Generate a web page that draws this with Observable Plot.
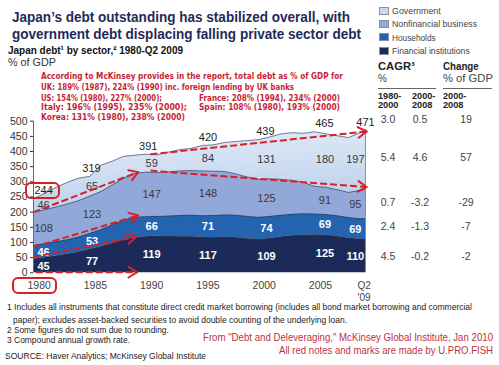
<!DOCTYPE html>
<html><head><meta charset="utf-8">
<script src="https://cdn.jsdelivr.net/npm/d3@7"></script>
<script src="https://cdn.jsdelivr.net/npm/@observablehq/plot@0.6"></script>
<style>
html,body{margin:0;padding:0;background:#fff;}
#root{position:relative;width:499px;height:365px;overflow:hidden;font-family:"Liberation Sans",Arial,sans-serif;}
.t{position:absolute;white-space:nowrap;line-height:1;}
.box{position:absolute;border:2px solid #d42027;border-radius:6px;box-sizing:border-box;}
.sq{position:absolute;width:10px;height:8px;border:1px solid #8a8f9a;box-sizing:border-box;}
.rule{position:absolute;height:1px;background:#666;}
</style></head><body><div id="root"></div>
<script>
// ---------- data ----------
const years = [1980,1981,1982,1983,1984,1985,1986,1987,1988,1989,1990,1991,1992,1993,1994,1995,1996,1997,1998,1999,2000,2001,2002,2003,2004,2005,2006,2007,2008,2009,2009.5];
const financial    = [45,50,55,61,68,77,86,97,108,116,119,121,120,119,119,117,116,118,116,112,109,113,118,122,124,125,124,120,114,111,110];
const households   = [46,46,47,48,50,53,56,61,65,67,66,65,67,70,71,71,73,73,74,74,74,73,72,71,71,69,68,68,68,67,69];
const nonfinancial = [108,112,115,118,120,123,126,132,139,145,147,144,146,147,147,148,146,143,136,130,125,124,118,112,103,91,90,86,83,94,95];
const government   = [45,54,65,71,74,65,87,78,72,60,59,59,65,70,73,84,87,96,107,120,131,138,150,157,162,180,176,178,181,190,197];

const sectors = ["Government","Nonfinancial business","Households","Financial institutions"];
const stackOrder = ["Financial institutions","Households","Nonfinancial business","Government"];
const sectorColors = ["url(#govGrad)","#91a8d8","#2363b0","#1c2a5a"];
const legendColors = ["#c9dbf1","#91a8d8","#2363b0","#1c2a5a"];

// printed labels
const labelYears = [1980.9,1985.2,1990.5,1995.5,2000.7,2005.9,2008.6];
const totalLabelYears = [1980.9,1985.15,1990.2,1995.5,2000.6,2005.85,2009.5];
const finLabels = [45,77,119,117,109,125,110];
const hhLabels  = [46,53,66,71,74,69,69];
const nfbLabels = [108,123,147,148,125,91,95];
const govLabels = [46,65,59,84,131,180,197];
const totalLabels = [244,319,391,420,439,465,471];

const yTicks = [0,50,100,150,200,250,300,350,400,450,500];
const xTickYears = [1980.5,1985.5,1990.5,1995.5,2000.5,2005.5,2009.375];
const xTickLabels = ["1980","1985","1990","1995","2000","2005","Q2"];

// red annotation arrows (data units)
const arrowStartYear = [1980.2,1980,1980,1980,1990.4,1990.4];
const arrowStartVal  = [2,52,85,200,391,337];
const arrowEndYear   = [1989.2,1989.1,1989.3,1989.3,2009.6,2009.6];
const arrowEndVal    = [2,118,189,332,466,283];

// table
const cagrRows = [["3.0","0.5","19"],["5.4","4.6","57"],["0.7","-3.2","-29"],["2.4","-1.3","-7"],["4.5","-0.2","-2"]];

// ---------- build ----------
const W = 380, H = 205, mT = 20.7, mB = 32.7, mL = 33, mR = 15;
const xDomain = [1980, 2009.5], yDomain = [0, 500];
const kx = (W - mL - mR) / (xDomain[1] - xDomain[0]);   // px per year
const ky = (H - mT - mB) / (yDomain[1] - yDomain[0]);   // px per unit

const series = [government, nonfinancial, households, financial];
const rows = sectors.flatMap((s,i)=>years.map((yr,j)=>({year:yr, sector:s, value:series[i][j]})));

const labelRows = [];
labelYears.forEach((yr,i)=>{
  const f=finLabels[i], h=hhLabels[i], n=nfbLabels[i], g=govLabels[i];
  labelRows.push({x:yr, y:f/2, t:String(f), white:true});
  labelRows.push({x:yr, y:f+h/2, t:String(h), white:true});
  labelRows.push({x:yr, y:f+h+n/2, t:String(n), white:false});
  labelRows.push({x:yr, y:f+h+n+g/2, t:String(g), white:false});
});
const totalRows = totalLabels.map((v,i)=>({x:totalLabelYears[i], y:v, t:String(v)}));
const arrows = arrowStartYear.map((x1,i)=>({x1, y1:arrowStartVal[i], x2:arrowEndYear[i], y2:arrowEndVal[i]}));
// arrowhead wings (open V), computed in pixel space then mapped back to data units
const wingLen = 10, wingAng = 32 * Math.PI / 180;
const wings = arrows.flatMap(a=>{
  const dx = (a.x2-a.x1)*kx, dy = -(a.y2-a.y1)*ky;
  const L = Math.hypot(dx,dy), ux = dx/L, uy = dy/L;
  return [1,-1].map(s=>{
    const c = Math.cos(s*wingAng), sn = Math.sin(s*wingAng);
    const rx = ux*c - uy*sn, ry = ux*sn + uy*c;
    return {x1: a.x2 - rx*wingLen/kx, y1: a.y2 + ry*wingLen/ky, x2: a.x2, y2: a.y2};
  });
});
const lastTotal = financial.at(-1)+households.at(-1)+nonfinancial.at(-1)+government.at(-1);
const red = "#d8202a";

const chart = Plot.plot({
  width: W, height: H,
  marginTop: mT, marginBottom: mB, marginLeft: mL, marginRight: mR,
  style: {fontFamily: "Liberation Sans, Arial, sans-serif", fontSize: "10.5px", color: "#333", background: "transparent"},
  x: {domain: xDomain, axis: null},
  y: {domain: yDomain, ticks: yTicks, tickSize: 3, tickPadding: 3, label: null},
  color: {domain: sectors, range: sectorColors},
  marks: [
    Plot.areaY(rows, {x:"year", y:"value", z:"sector", fill:"sector", order: stackOrder}),
    Plot.lineY(rows, Plot.stackY2({x:"year", y:"value", z:"sector", order: stackOrder, stroke:"#2e3548", strokeWidth:0.7, strokeOpacity:0.85})),
    Plot.ruleX([xDomain[1]], {y1:0, y2:lastTotal, stroke:"#8a8f9a", strokeWidth:1}),
    Plot.ruleX([xDomain[0]], {y1:0, y2:500, stroke:"#666", strokeWidth:1}),
    Plot.text(labelRows.filter(d=>d.white), {x:"x", y:"y", text:"t", fill:"white", fontWeight:"bold", fontSize:11}),
    Plot.text(labelRows.filter(d=>!d.white), {x:"x", y:"y", text:"t", fill:"#3a3a3a", fontSize:11}),
    Plot.text(totalRows, {x:"x", y:"y", text:"t", fill:"#222", fontSize:11, dy:-8}),
    Plot.text(xTickYears.slice(0, -1), {x:d=>d, y:()=>0, text:(d,i)=>xTickLabels[i], dy:13, fill:"#444", fontSize:10.5}),
    Plot.text([xTickYears.at(-1)], {x:d=>d, y:()=>0, text:()=>xTickLabels.at(-1), dy:12.5, fill:"#444", fontSize:10}),
    Plot.text([xTickYears.at(-1)], {x:d=>d, y:()=>0, text:()=>"'09", dy:24.5, fill:"#444", fontSize:10}),
    Plot.link(arrows, {x1:"x1", y1:"y1", x2:"x2", y2:"y2", stroke:red, strokeWidth:2, strokeDasharray:"7,3"}),
    Plot.link(wings, {x1:"x1", y1:"y1", x2:"x2", y2:"y2", stroke:red, strokeWidth:2, strokeLinecap:"round"})
  ]
});
const ns = "http://www.w3.org/2000/svg";
const defs = document.createElementNS(ns, "defs");
defs.innerHTML = '<linearGradient id="govGrad" x1="0" y1="0" x2="0.25" y2="1"><stop offset="0" stop-color="#e6eef9"/><stop offset="1" stop-color="#bcd1ec"/></linearGradient>';
chart.insertBefore(defs, chart.firstChild);
chart.style.position = "absolute";
chart.style.left = "0px";
chart.style.top = "100px";
const root = document.getElementById("root");
root.appendChild(chart);

// ---------- html text ----------
function T(str, x, yc, size, o = {}) {
  const el = document.createElement("div");
  el.className = "t";
  el.textContent = str;
  el.style.fontSize = size + "px";
  el.style.fontWeight = o.bold ? "bold" : "normal";
  el.style.color = o.color || "#222";
  if (o.family) el.style.fontFamily = o.family;
  el.style.top = (yc - 0.49 * size) + "px";
  el.style.left = x + "px";
  root.appendChild(el);
  const w = el.getBoundingClientRect().width;
  if (o.w) { el.style.transformOrigin = "0 50%"; el.style.transform = `scaleX(${o.w / w})`; }
  if (o.anchor === "middle") el.style.left = (x - w / 2) + "px";
  return el;
}
function div(cls, x, y, w, h, bg) {
  const el = document.createElement("div");
  el.className = cls;
  el.style.left = x + "px"; el.style.top = y + "px";
  if (w != null) el.style.width = w + "px";
  if (h != null) el.style.height = h + "px";
  if (bg) el.style.background = bg;
  root.appendChild(el);
  return el;
}

const navy = "#1f2b58";
T("Japan’s debt outstanding has stabilized overall, with", 12, 17, 14.5, {bold:true, color:navy, w:338});
T("government debt displacing falling private sector debt", 12, 34, 14.5, {bold:true, color:navy, w:349});
T("Japan debt¹ by sector,² 1980-Q2 2009", 8, 50.5, 10.5, {bold:true, color:"#111", w:175});
T("% of GDP", 8, 62, 10.5, {color:"#333", w:48});

const dv = "DejaVu Sans, Verdana, sans-serif";
const nred = "#c81e32";
const rn = {family:dv, color:nred, bold:true};
T("According to McKinsey provides in the report, total debt as % of GDP for", 41, 76.5, 9, {...rn, w:302});
T("UK: 189% (1987), 224% (1990) inc. foreign lending by UK banks", 41, 87.5, 9, {...rn, w:253});
T("US: 154% (1980), 227% (2000);", 41, 98, 9, {...rn, w:121});
T("France: 208% (1994), 234% (2000)", 199, 98, 9, {...rn, w:141});
T("Italy: 196% (1995), 235% (2000);", 41, 107.5, 9, {...rn, w:146});
T("Spain: 108% (1980), 193% (2000)", 199, 107.5, 9, {...rn, w:141});
T("Korea: 131% (1980), 238% (2000)", 41, 117, 9, {...rn, w:144});

// legend
const legendY = [11, 24, 37.3, 50.7];
const legendW = [48.7, 85, 43.7, 77.7];
sectors.forEach((s,i)=>{
  div("sq", 379, legendY[i]-4, null, null, legendColors[i]);
  T(s, 392, legendY[i], 9.5, {color:"#444", w:legendW[i]});
});

// table header
T("CAGR³", 378, 66.7, 11, {bold:true, color:"#222", w:36.7});
T("%", 378, 78.7, 10, {color:"#444"});
T("Change", 443, 66.7, 11, {bold:true, color:"#222", w:35.7});
T("% of GDP", 443, 78.7, 10, {color:"#444", w:50});
div("rule", 378, 88, 58, 1);
div("rule", 443, 88, 49, 1);
T("1980-", 378, 96.5, 9.3, {bold:true, w:23.3});
T("2000-", 412, 96.5, 9.3, {bold:true, w:23.3});
T("2000-", 443, 96.5, 9.3, {bold:true, w:23.3});
T("2000", 378, 106, 9.3, {bold:true, w:20.5});
T("2008", 412, 106, 9.3, {bold:true, w:20.5});
T("2008", 443, 106, 9.3, {bold:true, w:20.5});
const rowY = [119, 157.3, 202, 226, 256];
const colX = [388, 420, 466];
cagrRows.forEach((r,i)=>r.forEach((v,j)=>T(v, colX[j], rowY[i], 10.5, {color:"#444", anchor:"middle"})));

// boxes
div("box", 25, 182, 35, 17);
div("box", 12, 277, 45, 17);

// footnotes
T("1 Includes all instruments that constitute direct credit market borrowing (includes all bond market borrowing and commercial", 6.7, 307.5, 9, {w:465});
T("paper); excludes asset-backed securities to avoid double counting of the underlying loan.", 12.7, 320, 9, {w:334});
T("2 Some figures do not sum due to rounding.", 6.7, 330.7, 9, {w:161.7});
T("3 Compound annual growth rate.", 6.7, 340.7, 9, {w:123});
T("SOURCE: Haver Analytics; McKinsey Global Institute", 5, 356.7, 9, {w:201});
const fred = "#c0303f";
T("From \"Debt and Deleveraging,\" McKinsey Global Institute, Jan 2010", 203.3, 336.7, 10.5, {color:fred, w:290});
T("All red notes and marks are made by U.PRO.FISH", 279.3, 350, 10.5, {color:fred, w:214});
</script>
</body></html>
